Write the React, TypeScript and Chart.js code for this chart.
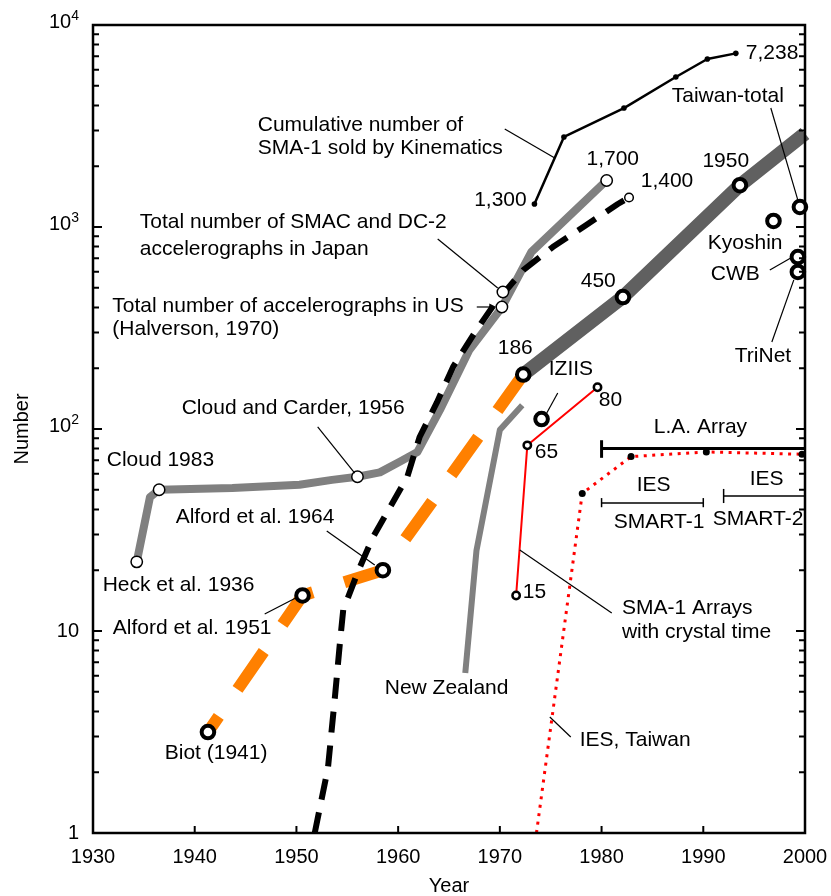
import React, { useEffect, useRef } from 'react';
import { Chart, registerables } from 'chart.js';

Chart.register(...registerables);

const FONT = "'Liberation Sans', Arial, Helvetica, sans-serif";

// ---- axes ----
const xTickYears = [1930, 1940, 1950, 1960, 1970, 1980, 1990, 2000];
const yDecades = [1, 10, 100, 1000, 10000];
const yDecadeBase = ['1', '10', '10', '10', '10'];
const yDecadeExp = ['', '', '2', '3', '4'];

// ---- series ----
// Total number of accelerographs in US (Halverson, 1970) — grey line
const usYears = [1934.3, 1935.6, 1936.5, 1943.7, 1950.3, 1953.5, 1956.0, 1958.2, 1960.2, 1961.9, 1964.1, 1967.0, 1970.2, 1973.1, 1980.5];
const usCounts = [22, 46, 50, 51, 53, 56, 58, 61, 69, 77, 124, 246, 400, 752, 1700];

// Total number of SMAC and DC-2 accelerographs in Japan — black dashed
const japanYears = [1951.8, 1953.1, 1953.8, 1954.3, 1954.6, 1956.0, 1957.5, 1959.2, 1960.9, 1962.1, 1963.8, 1965.4, 1967.7, 1969.4, 1972.3, 1975.2, 1978.5, 1981.6, 1982.7];
const japanCounts = [1, 2.1, 4.8, 9, 12.7, 19.4, 29, 41, 58, 91, 135, 203, 309, 411, 612, 796, 1023, 1300, 1400];

// Early instruments — orange dashed
const earlyYears = [1941.3, 1950.6, 1958.5, 1972.3];
const earlyCounts = [3.16, 15, 20, 186];

// World growth — dark grey thick
const worldYears = [1972.3, 1982.1, 1993.6, 2000.0];
const worldCounts = [186, 450, 1610, 2900];

// Cumulative number of SMA-1 sold by Kinemetrics
const sma1Years = [1973.4, 1976.3, 1982.2, 1987.3, 1990.4, 1993.2];
const sma1Counts = [1300, 2790, 3880, 5530, 6790, 7238];

// New Zealand
const nzYears = [1966.6, 1967.7, 1970.0, 1972.2];
const nzCounts = [6.2, 25, 99, 131];

// SMA-1 Arrays with crystal time — red
const arrYears = [1971.6, 1972.7, 1979.6];
const arrCounts = [15, 83, 161];

// IES, Taiwan — red dotted
const iesYears = [1973.6, 1978.1, 1982.9, 1990.3, 1999.7];
const iesCounts = [1, 48, 73, 77, 75];

// L.A. Array
const laYears = [1980, 2000];
const laCounts = [80, 80];
const laCapYears = [1980, 1980];
const laCapCounts = [72, 88];

// IES SMART-1 / SMART-2 spans
const smart1Years = [1980, 1990];
const smart1Counts = [43, 43];
const smart1CapA = [41, 45.5];
const smart1CapB = [41, 45.5];
const smart2Years = [1992, 2000];
const smart2Counts = [46.6, 46.6];
const smart2Cap = [43, 50.5];

// open (thin) markers
const openYears = [1934.3, 1936.5, 1956.0, 1970.2, 1970.3, 1980.5];
const openCounts = [22, 50, 58, 402, 477, 1700];
const open1400Years = [1982.7];
const open1400Counts = [1400];

// bold markers
const boldYears = [1941.3, 1950.6, 1958.5, 1972.3, 1974.1, 1982.1, 1993.6, 1999.5, 1996.9, 1999.3, 1999.3];
const boldCounts = [3.16, 15, 20, 186, 112, 450, 1610, 1256, 1071, 710, 599];

// ---- annotations (text, year, log10 position, alignment) ----
const labelTexts: [string, number, number, CanvasTextAlign][] = [
  ['Cumulative number of', 1946.2, 3.505, 'left'],
  ['SMA-1 sold by Kinematics', 1946.2, 3.391, 'left'],
  ['1,300', 1972.64, 3.134, 'right'],
  ['1,700', 1981.1, 3.337, 'center'],
  ['1,400', 1983.85, 3.228, 'left'],
  ['7,238', 1994.18, 3.861, 'left'],
  ['Taiwan-total', 1986.9, 3.649, 'left'],
  ['1950', 1992.21, 3.327, 'center'],
  ['Kyoshin', 1990.44, 2.921, 'left'],
  ['CWB', 1990.74, 2.767, 'left'],
  ['TriNet', 1993.1, 2.361, 'left'],
  ['450', 1977.95, 2.733, 'left'],
  ['186', 1969.79, 2.401, 'left'],
  ['IZIIS', 1974.81, 2.297, 'left'],
  ['80', 1979.73, 2.144, 'left'],
  ['65', 1973.43, 1.886, 'left'],
  ['15', 1972.25, 1.193, 'left'],
  ['L.A. Array', 1985.13, 2.01, 'left'],
  ['IES', 1983.46, 1.723, 'left'],
  ['SMART-1', 1981.2, 1.54, 'left'],
  ['IES', 1994.57, 1.752, 'left'],
  ['SMART-2', 1990.93, 1.554, 'left'],
  ['SMA-1 Arrays', 1982.0, 1.114, 'left'],
  ['with crystal time', 1982.0, 0.995, 'left'],
  ['IES, Taiwan', 1977.85, 0.46, 'left'],
  ['New Zealand', 1958.68, 0.718, 'left'],
  ['Biot (1941)', 1937.05, 0.396, 'left'],
  ['Alford et al. 1951', 1931.94, 1.015, 'left'],
  ['Heck et al. 1936', 1930.95, 1.228, 'left'],
  ['Alford et al. 1964', 1938.13, 1.564, 'left'],
  ['Cloud 1983', 1931.35, 1.847, 'left'],
  ['Cloud and Carder, 1956', 1938.72, 2.104, 'left'],
  ['Total number of accelerographs in US', 1931.9, 2.609, 'left'],
  ['(Halverson, 1970)', 1931.9, 2.495, 'left'],
  ['Total number of SMAC and DC-2', 1934.6, 3.025, 'left'],
  ['accelerographs in Japan', 1934.6, 2.891, 'left'],
];

// leader lines: [year1, log1, year2, log2]
const leaderLines: [number, number, number, number][] = [
  [1970.48, 3.485, 1975.4, 3.342],
  [1963.89, 2.941, 1969.79, 2.698],
  [1952.09, 2.01, 1955.73, 1.782],
  [1952.98, 1.495, 1957.7, 1.327],
  [1946.88, 1.084, 1949.93, 1.163],
  [1996.64, 3.589, 1999.29, 3.134],
  [1996.54, 2.787, 1998.6, 2.847],
  [1996.74, 2.431, 1998.9, 2.738],
  [1975.69, 2.178, 1974.61, 2.079],
  [1971.96, 1.401, 1981.0, 1.089],
  [1974.91, 0.574, 1976.97, 0.475],
];
// arrow toward the US marker
const usArrow: [number, number, number, number] = [1967.73, 2.604, 1969.65, 2.604];

const pts = (xs: number[], ys: number[]) => xs.map((x, i) => ({ x, y: ys[i] }));

const line = (xs: number[], ys: number[], color: string, width: number, order: number, extra: any = {}) => ({
  data: pts(xs, ys),
  showLine: true,
  borderColor: color,
  borderWidth: width,
  pointRadius: 0,
  pointHoverRadius: 0,
  borderCapStyle: 'butt',
  borderJoinStyle: 'round',
  tension: 0,
  fill: false,
  clip: false,
  order,
  ...extra,
});

const markers = (xs: number[], ys: number[], r: number, bw: number, fillC: string, order: number) => ({
  data: pts(xs, ys),
  showLine: false,
  pointRadius: r,
  pointHoverRadius: r,
  pointBorderWidth: bw,
  pointBackgroundColor: fillC,
  pointBorderColor: '#000',
  clip: false,
  order,
});

const framePlugin = {
  id: 'frameAndLabels',
  afterDatasetsDraw(chart: any) {
    const { ctx, chartArea: a, scales } = chart;
    const xs = scales.x;
    const ys = scales.y;
    const X = (v: number) => xs.getPixelForValue(v);
    const Y = (e: number) => ys.getPixelForValue(Math.pow(10, e));
    ctx.save();

    // leader lines
    ctx.strokeStyle = '#000';
    ctx.lineWidth = 1.2;
    for (const [x1, e1, x2, e2] of leaderLines) {
      ctx.beginPath();
      ctx.moveTo(X(x1), Y(e1));
      ctx.lineTo(X(x2), Y(e2));
      ctx.stroke();
    }
    {
      const [x1, e1, x2, e2] = usArrow;
      const px1 = X(x1), py1 = Y(e1), px2 = X(x2), py2 = Y(e2);
      ctx.beginPath();
      ctx.moveTo(px1, py1);
      ctx.lineTo(px2 - 5, py2);
      ctx.stroke();
      ctx.beginPath();
      ctx.moveTo(px2, py2);
      ctx.lineTo(px2 - 7, py2 - 3.5);
      ctx.lineTo(px2 - 7, py2 + 3.5);
      ctx.closePath();
      ctx.fillStyle = '#000';
      ctx.fill();
    }

    // annotation texts
    ctx.fillStyle = '#000';
    ctx.font = `21px ${FONT}`;
    ctx.textBaseline = 'middle';
    for (const [t, yr, e, al] of labelTexts) {
      ctx.textAlign = al;
      ctx.fillText(t, X(yr), Y(e));
    }

    // frame
    ctx.strokeStyle = '#000';
    ctx.lineWidth = 2.5;
    ctx.strokeRect(a.left, a.top, a.right - a.left, a.bottom - a.top);

    // x ticks (inward) + labels
    ctx.lineWidth = 2;
    ctx.font = `20px ${FONT}`;
    ctx.textAlign = 'center';
    ctx.textBaseline = 'middle';
    for (const yr of xTickYears) {
      const px = X(yr);
      ctx.beginPath();
      ctx.moveTo(px, a.bottom);
      ctx.lineTo(px, a.bottom - 7);
      ctx.stroke();
      ctx.fillText(String(yr), px, a.bottom + 24);
    }

    // y ticks (inward on both sides)
    for (let d = 0; d < yDecades.length; d++) {
      const base = yDecades[d];
      const py = ys.getPixelForValue(base);
      ctx.beginPath();
      ctx.moveTo(a.left, py);
      ctx.lineTo(a.left + 9, py);
      ctx.moveTo(a.right, py);
      ctx.lineTo(a.right - 9, py);
      ctx.stroke();
      if (d < yDecades.length - 1) {
        for (let m = 2; m <= 9; m++) {
          const pm = ys.getPixelForValue(base * m);
          ctx.beginPath();
          ctx.moveTo(a.left, pm);
          ctx.lineTo(a.left + 6, pm);
          ctx.moveTo(a.right, pm);
          ctx.lineTo(a.right - 6, pm);
          ctx.stroke();
        }
      }
      // labels
      const rx = a.left - 14;
      ctx.textAlign = 'right';
      if (yDecadeExp[d]) {
        ctx.font = `14px ${FONT}`;
        const w = ctx.measureText(yDecadeExp[d]).width;
        ctx.fillText(yDecadeExp[d], rx, py - 9);
        ctx.font = `20px ${FONT}`;
        ctx.fillText(yDecadeBase[d], rx - w, py - 3);
      } else {
        ctx.font = `20px ${FONT}`;
        ctx.fillText(yDecadeBase[d], rx, py);
      }
    }

    // axis titles
    ctx.font = `20px ${FONT}`;
    ctx.textAlign = 'center';
    ctx.fillText('Year', (a.left + a.right) / 2, 886);
    ctx.save();
    ctx.translate(22, (a.top + a.bottom) / 2);
    ctx.rotate(-Math.PI / 2);
    ctx.fillText('Number', 0, 0);
    ctx.restore();

    ctx.restore();
  },
};

export default function App() {
  const ref = useRef<HTMLCanvasElement>(null);
  useEffect(() => {
    const canvas = ref.current;
    if (!canvas) return;
    const datasets: any[] = [
      markers(boldYears, boldCounts, 6.3, 4, '#fff', 1),
      markers(openYears, openCounts, 5.7, 1.5, '#fff', 2),
      markers(open1400Years, open1400Counts, 4.3, 1.5, '#fff', 2),
      line(arrYears, arrCounts, '#ff0000', 2, 3, {
        pointRadius: 3.7,
        pointBorderWidth: 2.5,
        pointBackgroundColor: '#fff',
        pointBorderColor: '#000',
      }),
      line(sma1Years, sma1Counts, '#000', 2.5, 4, {
        pointRadius: 2.8,
        pointBorderWidth: 0,
        pointBackgroundColor: '#000',
        pointBorderColor: '#000',
      }),
      line(iesYears, iesCounts, '#ff0000', 3, 5, {
        borderDash: [3, 5.5],
        pointRadius: [0, 3.5, 3.5, 3.5, 3.5],
        pointBorderWidth: 0,
        pointBackgroundColor: '#000',
        pointBorderColor: '#000',
      }),
      line(laYears, laCounts, '#000', 3, 6),
      line(laCapYears, laCapCounts, '#000', 3, 6),
      line(smart1Years, smart1Counts, '#000', 1.5, 6),
      line([1980, 1980], smart1CapA, '#000', 1.5, 6),
      line([1990, 1990], smart1CapB, '#000', 1.5, 6),
      line(smart2Years, smart2Counts, '#000', 1.5, 6),
      line([1992, 1992], smart2Cap, '#000', 1.5, 6),
      line(japanYears, japanCounts, '#000', 6, 7, { borderDash: [21, 13] }),
      line(worldYears, worldCounts, '#606060', 14, 8),
      line(nzYears, nzCounts, '#808080', 6, 9),
      line(usYears, usCounts, '#808080', 8, 10),
      line(earlyYears, earlyCounts, '#ff8000', 12, 11, { borderDash: [46, 33], borderDashOffset: 27 }),
    ];
    const chart = new Chart(canvas, {
      type: 'scatter',
      data: { datasets },
      options: {
        responsive: false,
        maintainAspectRatio: false,
        animation: false,
        devicePixelRatio: 1,
        events: [],
        layout: { padding: { left: 93, right: 26, top: 25, bottom: 63 } },
        plugins: { legend: { display: false }, tooltip: { enabled: false } },
        scales: {
          x: { type: 'linear', min: 1930, max: 2000, display: false },
          y: { type: 'logarithmic', min: 1, max: 10000, display: false },
        },
      },
      plugins: [framePlugin],
    } as any);
    return () => chart.destroy();
  }, []);
  return (
    <div style={{ position: 'absolute', left: 0, top: 0, width: 831, height: 896 }}>
      <canvas ref={ref} width={831} height={896} style={{ display: 'block', width: 831, height: 896 }} />
    </div>
  );
}
